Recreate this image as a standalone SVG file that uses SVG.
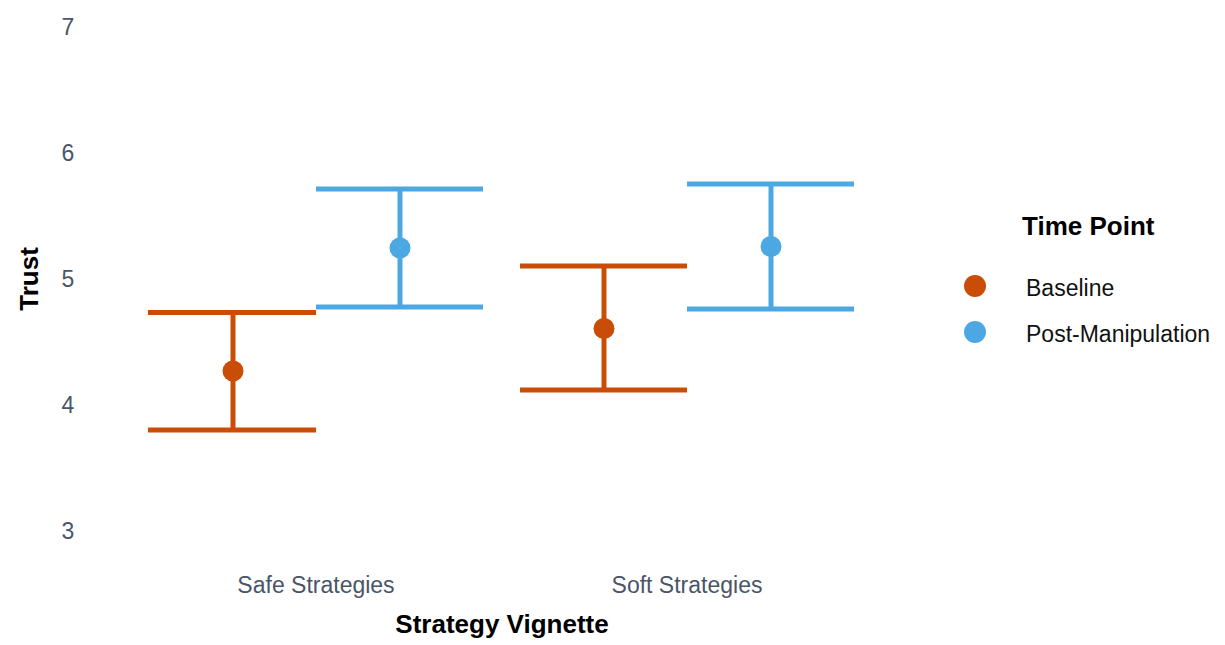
<svg xmlns="http://www.w3.org/2000/svg" width="1225" height="645" viewBox="0 0 1225 645">
<style>
.tick{font-family:"Liberation Sans",Arial,sans-serif;font-size:23px;fill:#4a5568}
.ttl{font-family:"Liberation Sans",Arial,sans-serif;font-size:26px;font-weight:bold;fill:#000}
.leg{font-family:"Liberation Sans",Arial,sans-serif;font-size:23px;fill:#111}
.o{stroke:#c94c07;stroke-width:5;fill:none}
.b{stroke:#4ca8e3;stroke-width:5;fill:none}
.od{fill:#c94c07}
.bd{fill:#4ca8e3}
</style>
<rect width="1225" height="645" fill="#fff"/>
<g id="y-axis">
<text class="tick" x="68" y="35" text-anchor="middle">7</text>
<text class="tick" x="68" y="161" text-anchor="middle">6</text>
<text class="tick" x="68" y="287" text-anchor="middle">5</text>
<text class="tick" x="68" y="413" text-anchor="middle">4</text>
<text class="tick" x="68" y="539" text-anchor="middle">3</text>
<text class="ttl" transform="translate(38,279) rotate(-90)" text-anchor="middle">Trust</text>
</g>
<g id="x-axis">
<text class="tick" x="316" y="593" text-anchor="middle">Safe Strategies</text>
<text class="tick" x="687" y="593" text-anchor="middle">Soft Strategies</text>
<text class="ttl" x="502" y="633" text-anchor="middle">Strategy Vignette</text>
</g>
<g id="connectors">
<g id="safe-baseline">
<line class="o" x1="148" y1="312.5" x2="316" y2="312.5"/>
<line class="o" x1="148" y1="430" x2="316" y2="430"/>
<line class="o" x1="233" y1="312.5" x2="233" y2="430"/>
<circle class="od" cx="233" cy="371" r="10.5"/>
</g>
<g id="safe-post">
<line class="b" x1="316" y1="189" x2="483" y2="189"/>
<line class="b" x1="316" y1="307" x2="483" y2="307"/>
<line class="b" x1="400" y1="189" x2="400" y2="307"/>
<circle class="bd" cx="400" cy="248" r="10.5"/>
</g>
<g id="soft-baseline">
<line class="o" x1="520" y1="266" x2="687" y2="266"/>
<line class="o" x1="520" y1="390" x2="687" y2="390"/>
<line class="o" x1="604" y1="266" x2="604" y2="390"/>
<circle class="od" cx="604" cy="328.5" r="10.5"/>
</g>
<g id="soft-post">
<line class="b" x1="687" y1="184" x2="854" y2="184"/>
<line class="b" x1="687" y1="309" x2="854" y2="309"/>
<line class="b" x1="771" y1="184" x2="771" y2="309"/>
<circle class="bd" cx="771" cy="246.5" r="10.5"/>
</g>
</g>
<g id="legend">
<text class="ttl" x="1022" y="235">Time Point</text>
<circle class="od" cx="975" cy="286" r="11"/>
<text class="leg" x="1026" y="296">Baseline</text>
<circle class="bd" cx="975" cy="332" r="11"/>
<text class="leg" x="1026" y="342">Post-Manipulation</text>
</g>
</svg>
